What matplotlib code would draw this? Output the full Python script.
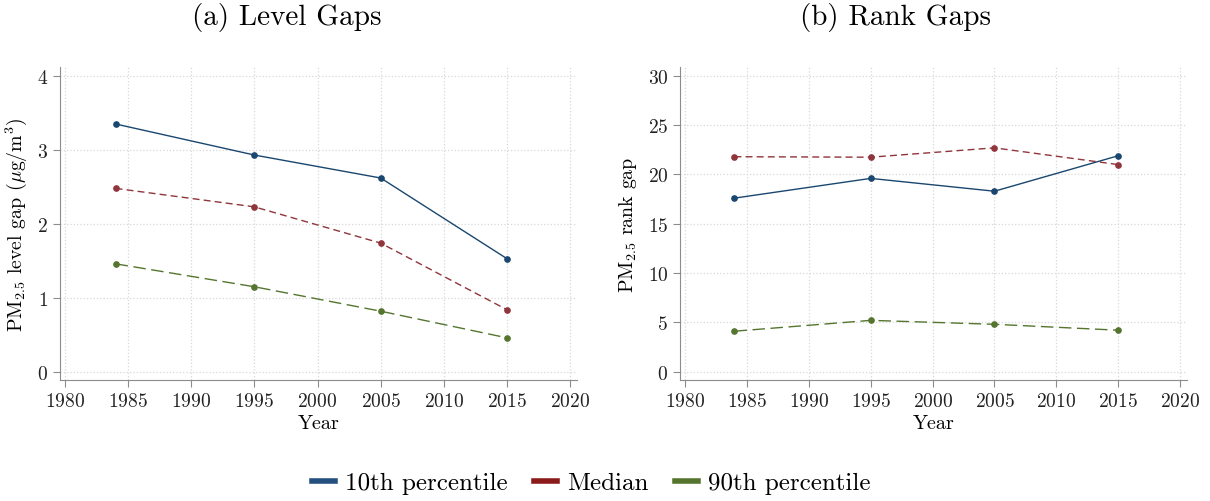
import matplotlib
matplotlib.use("Agg")
import matplotlib.pyplot as plt
from matplotlib.lines import Line2D

plt.rcParams['font.family'] = ['cmr10', 'DejaVu Serif']
plt.rcParams['mathtext.fontset'] = 'cm'
plt.rcParams['axes.formatter.use_mathtext'] = True

years = [1984, 1995, 2005, 2015]

# panel (a): level gaps
level_p10 = [3.35, 2.93, 2.62, 1.53]
level_med = [2.48, 2.23, 1.74, 0.84]
level_p90 = [1.46, 1.15, 0.82, 0.46]

# panel (b): rank gaps
rank_p10 = [17.6, 19.6, 18.3, 21.9]
rank_med = [21.8, 21.75, 22.7, 21.0]
rank_p90 = [4.1, 5.2, 4.8, 4.2]

series_names = ['10th percentile', 'Median', '90th percentile']
colors = ['#1a476f', '#90353b', '#55752f']
legend_colors = ['#23507e', '#8b1a1a', '#55752f']
styles = ['-', (0, (5, 3)), (0, (9, 4))]

x_ticks = [1980, 1985, 1990, 1995, 2000, 2005, 2010, 2015, 2020]

fig = plt.figure(figsize=(12.1, 5.02), dpi=100)
ax1 = fig.add_axes([60 / 1210, 1 - 381 / 502, 517 / 1210, 313 / 502])
ax2 = fig.add_axes([680 / 1210, 1 - 381 / 502, 507 / 1210, 313 / 502])


def style_axis(ax, yticks, ylim, ylabel):
    ax.set_xlim(1979.6, 2020.55)
    ax.set_ylim(*ylim)
    ax.set_xticks(x_ticks)
    ax.set_yticks(yticks)
    ax.grid(True, linestyle=':', color='#d8d8d8', linewidth=0.9)
    ax.set_axisbelow(True)
    for side in ['top', 'right']:
        ax.spines[side].set_visible(False)
    for side in ['left', 'bottom']:
        ax.spines[side].set_color('#8c8c8c')
    ax.tick_params(colors='#8c8c8c', labelcolor='#222222', labelsize=14, length=5)
    ax.set_xlabel('Year', fontsize=14.5, labelpad=3)
    ax.set_ylabel(ylabel, fontsize=14.3, labelpad=6)


for ax, data in [(ax1, [level_p10, level_med, level_p90]),
                 (ax2, [rank_p10, rank_med, rank_p90])]:
    for vals, c, ls in zip(data, colors, styles):
        ax.plot(years, vals, color=c, linestyle=ls, linewidth=1.0,
                marker='o', markersize=3.8)

style_axis(ax1, [0, 1, 2, 3, 4], (-0.11, 4.12),
           r'PM$_{2.5}$ level gap ($\mu$g/m$^3$)')
style_axis(ax2, [0, 5, 10, 15, 20, 25, 30], (-0.85, 30.9),
           'PM$_{2.5}$ rank gap')

fig.text(287 / 1210, 1 - 18 / 502, '(a) Level Gaps', fontsize=21,
         ha='center', va='center')
fig.text(896 / 1210, 1 - 18 / 502, '(b) Rank Gaps', fontsize=21,
         ha='center', va='center')

handles = [Line2D([0], [0], color=c, linewidth=4) for c in legend_colors]
fig.legend(handles, series_names, loc='center', bbox_to_anchor=(591 / 1210, 1 - 484 / 502),
           ncol=3, frameon=False, fontsize=18, handlelength=0.92,
           columnspacing=1.05, handletextpad=0.4)

fig.savefig('out.png', dpi=100)
